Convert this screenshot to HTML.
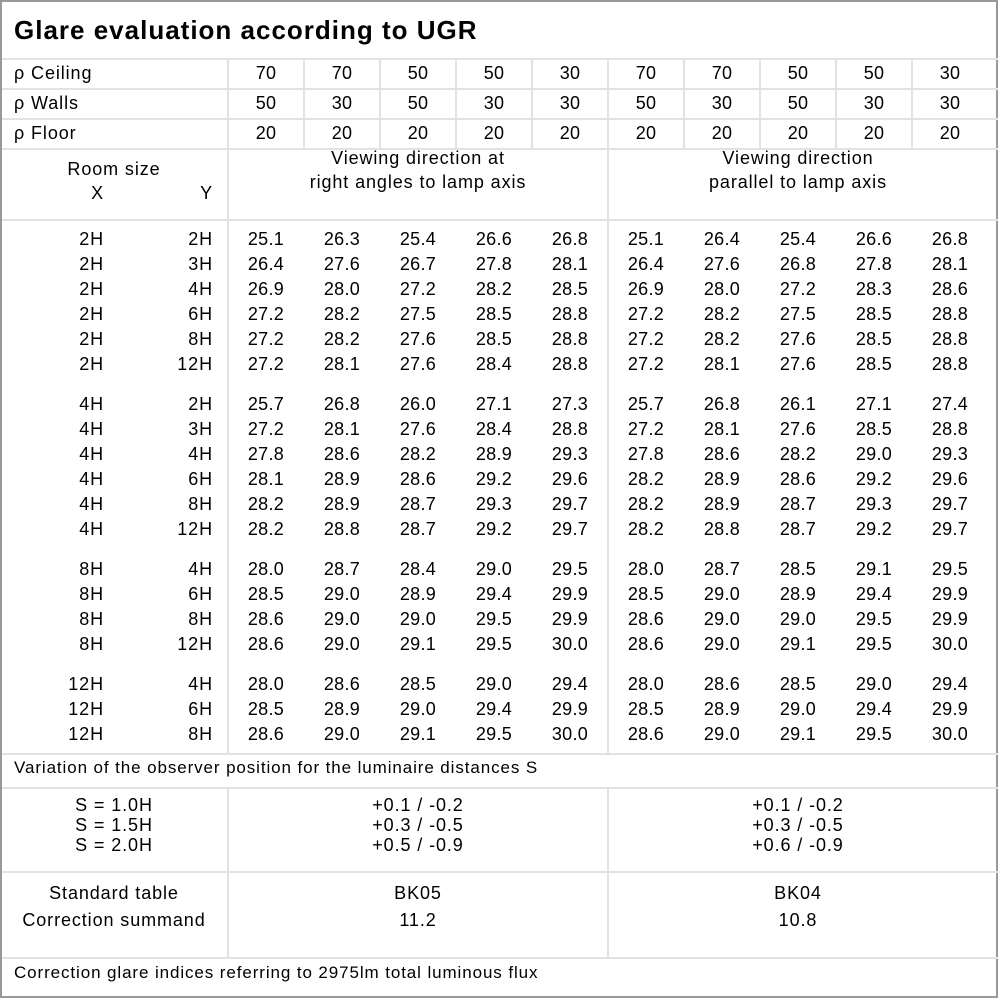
<!DOCTYPE html>
<html><head><meta charset="utf-8"><style>
body{margin:0;background:#fff}
#w{position:relative;width:1000px;height:1000px;overflow:hidden;font-family:"Liberation Sans","DejaVu Sans",sans-serif;font-size:18px;color:#000;background:#fff;letter-spacing:0.9px}
.b{position:absolute;border:1px solid #999;left:0;top:0;width:998px;height:998px;box-sizing:border-box;border-width:2px 2px 2px 2px}
.h{position:absolute;height:2px;background:#e2e2e2}
.vl{position:absolute;width:2px;background:#e2e2e2}
.r{position:absolute;left:0;height:25px;line-height:25px;display:flex;white-space:nowrap}
.x{width:104px;text-align:right}.y{width:109px;text-align:right}.g{width:15px}
.v{width:76px;text-align:center;letter-spacing:0.3px}
.t{position:absolute;white-space:nowrap;line-height:22px}
.lab{width:228px;padding-left:14px;box-sizing:border-box}
</style></head><body><div id="w">
<div class="b"></div>
<div class="t" style="left:14px;top:14px;font-size:26px;font-weight:bold;line-height:32px;letter-spacing:1px">Glare evaluation according to UGR</div>
<div class="h" style="left:2px;width:996px;top:58px"></div>
<div class="h" style="left:2px;width:996px;top:88px"></div>
<div class="h" style="left:2px;width:996px;top:118px"></div>
<div class="h" style="left:2px;width:996px;top:148px"></div>
<div class="h" style="left:2px;width:996px;top:219px"></div>
<div class="h" style="left:2px;width:996px;top:753px"></div>
<div class="h" style="left:2px;width:996px;top:787px"></div>
<div class="h" style="left:2px;width:996px;top:871px"></div>
<div class="h" style="left:2px;width:996px;top:957px"></div>
<div class="vl" style="left:227px;top:58px;height:695px"></div>
<div class="vl" style="left:227px;top:787px;height:170px"></div>
<div class="vl" style="left:607px;top:58px;height:695px"></div>
<div class="vl" style="left:607px;top:787px;height:170px"></div>
<div class="vl" style="left:303px;top:58px;height:90px"></div>
<div class="vl" style="left:379px;top:58px;height:90px"></div>
<div class="vl" style="left:455px;top:58px;height:90px"></div>
<div class="vl" style="left:531px;top:58px;height:90px"></div>
<div class="vl" style="left:683px;top:58px;height:90px"></div>
<div class="vl" style="left:759px;top:58px;height:90px"></div>
<div class="vl" style="left:835px;top:58px;height:90px"></div>
<div class="vl" style="left:911px;top:58px;height:90px"></div>

<div class="r" style="top:61px"><span class="lab">ρ Ceiling</span><span class="v">70</span><span class="v">70</span><span class="v">50</span><span class="v">50</span><span class="v">30</span><span class="v">70</span><span class="v">70</span><span class="v">50</span><span class="v">50</span><span class="v">30</span></div>
<div class="r" style="top:91px"><span class="lab">ρ Walls</span><span class="v">50</span><span class="v">30</span><span class="v">50</span><span class="v">30</span><span class="v">30</span><span class="v">50</span><span class="v">30</span><span class="v">50</span><span class="v">30</span><span class="v">30</span></div>
<div class="r" style="top:121px"><span class="lab">ρ Floor</span><span class="v">20</span><span class="v">20</span><span class="v">20</span><span class="v">20</span><span class="v">20</span><span class="v">20</span><span class="v">20</span><span class="v">20</span><span class="v">20</span><span class="v">20</span></div>

<div class="t" style="left:0;width:228px;text-align:center;top:157px;line-height:25px">Room size</div>
<div class="r" style="top:181px"><span class="x">X</span><span class="y">Y</span></div>
<div class="t" style="left:228px;width:380px;text-align:center;top:146px;line-height:24px">Viewing direction at<br>right angles to lamp axis</div>
<div class="t" style="left:608px;width:380px;text-align:center;top:146px;line-height:24px">Viewing direction<br>parallel to lamp axis</div>

<div class="r" style="top:227px"><span class="x">2H</span><span class="y">2H</span><span class="g"></span><span class="v">25.1</span><span class="v">26.3</span><span class="v">25.4</span><span class="v">26.6</span><span class="v">26.8</span><span class="v">25.1</span><span class="v">26.4</span><span class="v">25.4</span><span class="v">26.6</span><span class="v">26.8</span></div>
<div class="r" style="top:252px"><span class="x">2H</span><span class="y">3H</span><span class="g"></span><span class="v">26.4</span><span class="v">27.6</span><span class="v">26.7</span><span class="v">27.8</span><span class="v">28.1</span><span class="v">26.4</span><span class="v">27.6</span><span class="v">26.8</span><span class="v">27.8</span><span class="v">28.1</span></div>
<div class="r" style="top:277px"><span class="x">2H</span><span class="y">4H</span><span class="g"></span><span class="v">26.9</span><span class="v">28.0</span><span class="v">27.2</span><span class="v">28.2</span><span class="v">28.5</span><span class="v">26.9</span><span class="v">28.0</span><span class="v">27.2</span><span class="v">28.3</span><span class="v">28.6</span></div>
<div class="r" style="top:302px"><span class="x">2H</span><span class="y">6H</span><span class="g"></span><span class="v">27.2</span><span class="v">28.2</span><span class="v">27.5</span><span class="v">28.5</span><span class="v">28.8</span><span class="v">27.2</span><span class="v">28.2</span><span class="v">27.5</span><span class="v">28.5</span><span class="v">28.8</span></div>
<div class="r" style="top:327px"><span class="x">2H</span><span class="y">8H</span><span class="g"></span><span class="v">27.2</span><span class="v">28.2</span><span class="v">27.6</span><span class="v">28.5</span><span class="v">28.8</span><span class="v">27.2</span><span class="v">28.2</span><span class="v">27.6</span><span class="v">28.5</span><span class="v">28.8</span></div>
<div class="r" style="top:352px"><span class="x">2H</span><span class="y">12H</span><span class="g"></span><span class="v">27.2</span><span class="v">28.1</span><span class="v">27.6</span><span class="v">28.4</span><span class="v">28.8</span><span class="v">27.2</span><span class="v">28.1</span><span class="v">27.6</span><span class="v">28.5</span><span class="v">28.8</span></div>

<div class="r" style="top:392px"><span class="x">4H</span><span class="y">2H</span><span class="g"></span><span class="v">25.7</span><span class="v">26.8</span><span class="v">26.0</span><span class="v">27.1</span><span class="v">27.3</span><span class="v">25.7</span><span class="v">26.8</span><span class="v">26.1</span><span class="v">27.1</span><span class="v">27.4</span></div>
<div class="r" style="top:417px"><span class="x">4H</span><span class="y">3H</span><span class="g"></span><span class="v">27.2</span><span class="v">28.1</span><span class="v">27.6</span><span class="v">28.4</span><span class="v">28.8</span><span class="v">27.2</span><span class="v">28.1</span><span class="v">27.6</span><span class="v">28.5</span><span class="v">28.8</span></div>
<div class="r" style="top:442px"><span class="x">4H</span><span class="y">4H</span><span class="g"></span><span class="v">27.8</span><span class="v">28.6</span><span class="v">28.2</span><span class="v">28.9</span><span class="v">29.3</span><span class="v">27.8</span><span class="v">28.6</span><span class="v">28.2</span><span class="v">29.0</span><span class="v">29.3</span></div>
<div class="r" style="top:467px"><span class="x">4H</span><span class="y">6H</span><span class="g"></span><span class="v">28.1</span><span class="v">28.9</span><span class="v">28.6</span><span class="v">29.2</span><span class="v">29.6</span><span class="v">28.2</span><span class="v">28.9</span><span class="v">28.6</span><span class="v">29.2</span><span class="v">29.6</span></div>
<div class="r" style="top:492px"><span class="x">4H</span><span class="y">8H</span><span class="g"></span><span class="v">28.2</span><span class="v">28.9</span><span class="v">28.7</span><span class="v">29.3</span><span class="v">29.7</span><span class="v">28.2</span><span class="v">28.9</span><span class="v">28.7</span><span class="v">29.3</span><span class="v">29.7</span></div>
<div class="r" style="top:517px"><span class="x">4H</span><span class="y">12H</span><span class="g"></span><span class="v">28.2</span><span class="v">28.8</span><span class="v">28.7</span><span class="v">29.2</span><span class="v">29.7</span><span class="v">28.2</span><span class="v">28.8</span><span class="v">28.7</span><span class="v">29.2</span><span class="v">29.7</span></div>

<div class="r" style="top:557px"><span class="x">8H</span><span class="y">4H</span><span class="g"></span><span class="v">28.0</span><span class="v">28.7</span><span class="v">28.4</span><span class="v">29.0</span><span class="v">29.5</span><span class="v">28.0</span><span class="v">28.7</span><span class="v">28.5</span><span class="v">29.1</span><span class="v">29.5</span></div>
<div class="r" style="top:582px"><span class="x">8H</span><span class="y">6H</span><span class="g"></span><span class="v">28.5</span><span class="v">29.0</span><span class="v">28.9</span><span class="v">29.4</span><span class="v">29.9</span><span class="v">28.5</span><span class="v">29.0</span><span class="v">28.9</span><span class="v">29.4</span><span class="v">29.9</span></div>
<div class="r" style="top:607px"><span class="x">8H</span><span class="y">8H</span><span class="g"></span><span class="v">28.6</span><span class="v">29.0</span><span class="v">29.0</span><span class="v">29.5</span><span class="v">29.9</span><span class="v">28.6</span><span class="v">29.0</span><span class="v">29.0</span><span class="v">29.5</span><span class="v">29.9</span></div>
<div class="r" style="top:632px"><span class="x">8H</span><span class="y">12H</span><span class="g"></span><span class="v">28.6</span><span class="v">29.0</span><span class="v">29.1</span><span class="v">29.5</span><span class="v">30.0</span><span class="v">28.6</span><span class="v">29.0</span><span class="v">29.1</span><span class="v">29.5</span><span class="v">30.0</span></div>

<div class="r" style="top:672px"><span class="x">12H</span><span class="y">4H</span><span class="g"></span><span class="v">28.0</span><span class="v">28.6</span><span class="v">28.5</span><span class="v">29.0</span><span class="v">29.4</span><span class="v">28.0</span><span class="v">28.6</span><span class="v">28.5</span><span class="v">29.0</span><span class="v">29.4</span></div>
<div class="r" style="top:697px"><span class="x">12H</span><span class="y">6H</span><span class="g"></span><span class="v">28.5</span><span class="v">28.9</span><span class="v">29.0</span><span class="v">29.4</span><span class="v">29.9</span><span class="v">28.5</span><span class="v">28.9</span><span class="v">29.0</span><span class="v">29.4</span><span class="v">29.9</span></div>
<div class="r" style="top:722px"><span class="x">12H</span><span class="y">8H</span><span class="g"></span><span class="v">28.6</span><span class="v">29.0</span><span class="v">29.1</span><span class="v">29.5</span><span class="v">30.0</span><span class="v">28.6</span><span class="v">29.0</span><span class="v">29.1</span><span class="v">29.5</span><span class="v">30.0</span></div>

<div class="t" style="left:14px;top:757px;font-size:17px">Variation of the observer position for the luminaire distances S</div>
<div class="t" style="left:0;width:228px;text-align:center;top:795px;line-height:20px">S = 1.0H<br>S = 1.5H<br>S = 2.0H</div>
<div class="t" style="left:228px;width:380px;text-align:center;top:795px;line-height:20px">+0.1 / -0.2<br>+0.3 / -0.5<br>+0.5 / -0.9</div>
<div class="t" style="left:608px;width:380px;text-align:center;top:795px;line-height:20px">+0.1 / -0.2<br>+0.3 / -0.5<br>+0.6 / -0.9</div>
<div class="t" style="left:0;width:228px;text-align:center;top:880px;line-height:27px">Standard table<br>Correction summand</div>
<div class="t" style="left:228px;width:380px;text-align:center;top:880px;line-height:27px">BK05<br>11.2</div>
<div class="t" style="left:608px;width:380px;text-align:center;top:880px;line-height:27px">BK04<br>10.8</div>
<div class="t" style="left:14px;top:962px;font-size:17px">Correction glare indices referring to 2975lm total luminous flux</div>
</div></body></html>
